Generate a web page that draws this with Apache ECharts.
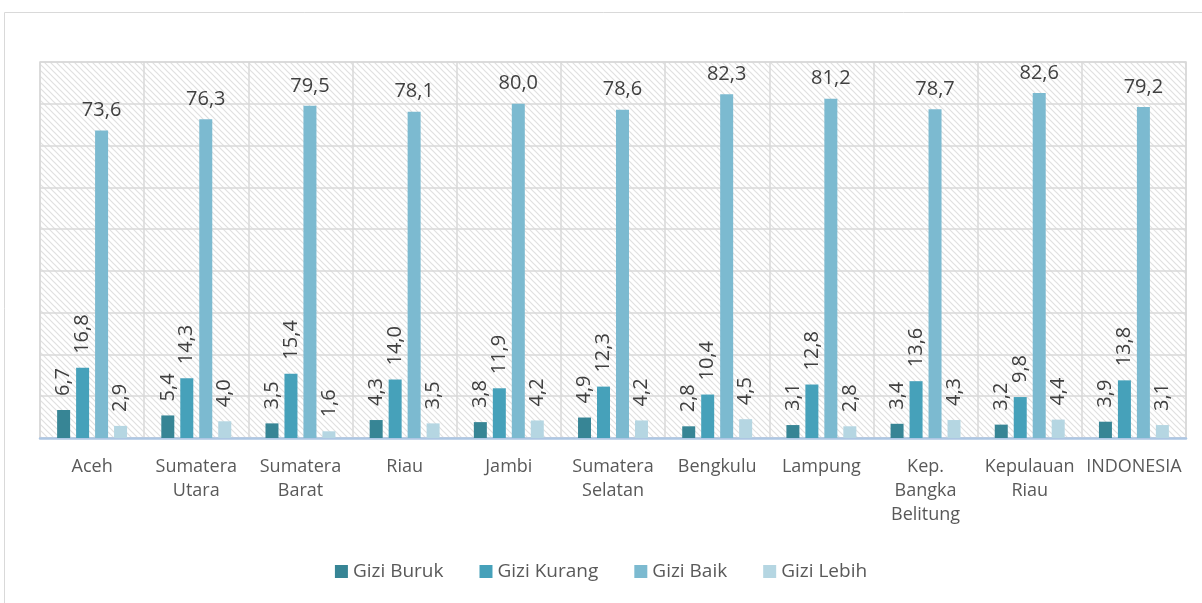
<!DOCTYPE html>
<html>
<head>
<meta charset="utf-8">
<script src="https://cdn.jsdelivr.net/npm/echarts@6/dist/echarts.min.js"></script>
<style>
  html, body { margin: 0; padding: 0; background: #fff; }
  #chart { width: 1202px; height: 603px; }
</style>
</head>
<body>
<div id="chart"></div>
<script>
const categories = ['Aceh', 'Sumatera\nUtara', 'Sumatera\nBarat', 'Riau', 'Jambi', 'Sumatera\nSelatan',
  'Bengkulu', 'Lampung', 'Kep.\nBangka\nBelitung', 'Kepulauan\nRiau', 'INDONESIA']
const giziBuruk = [6.7, 5.4, 3.5, 4.3, 3.8, 4.9, 2.8, 3.1, 3.4, 3.2, 3.9]
const giziKurang = [16.8, 14.3, 15.4, 14.0, 11.9, 12.3, 10.4, 12.8, 13.6, 9.8, 13.8]
const giziBaik = [73.6, 76.3, 79.5, 78.1, 80.0, 78.6, 82.3, 81.2, 78.7, 82.6, 79.2]
const giziLebih = [2.9, 4.0, 1.6, 3.5, 4.2, 4.2, 4.5, 2.8, 4.3, 4.4, 3.1]

const font = '"Open Sans", "Noto Sans", sans-serif'
const fmt = p => p.value.toFixed(1).replace('.', ',')

// hatched background for the plot area
function hatch() {
  const c = document.createElement('canvas')
  c.width = 6
  c.height = 6
  const ctx = c.getContext('2d')
  ctx.fillStyle = '#ffffff'
  ctx.fillRect(0, 0, 6, 6)
  ctx.strokeStyle = '#e0e0e0'
  ctx.lineWidth = 1.2
  ctx.beginPath()
  ctx.moveTo(-1, -1); ctx.lineTo(7, 7)
  ctx.moveTo(-4, 2); ctx.lineTo(4, 10)
  ctx.moveTo(2, -4); ctx.lineTo(10, 4)
  ctx.stroke()
  return c
}

const rotLabel = {
  show: true,
  position: 'top',
  rotate: 90,
  align: 'left',
  verticalAlign: 'middle',
  distance: 14,
  fontFamily: font,
  fontSize: 20,
  color: '#404040',
  formatter: fmt
}

function bar(name, data, color, label) {
  return {
    name,
    type: 'bar',
    data,
    barWidth: 13,
    barGap: '46%',
    itemStyle: { color },
    label
  }
}

const chart = echarts.init(document.getElementById('chart'))
chart.setOption({
  animation: false,
  backgroundColor: '#fff',
  graphic: [{
    type: 'rect',
    shape: { x: 4.5, y: 12.5, width: 1220, height: 620 },
    style: { fill: 'none', stroke: '#d9d9d9', lineWidth: 1 },
    silent: true
  }],
  grid: {
    left: 40,
    right: 16,
    top: 62,
    bottom: 165,
    show: true,
    backgroundColor: { image: hatch(), repeat: 'repeat' },
    borderColor: '#d9d9d9',
    borderWidth: 1.5
  },
  legend: {
    bottom: 17,
    left: 'center',
    itemWidth: 13,
    itemHeight: 13,
    itemGap: 36,
    icon: 'rect',
    textStyle: { fontFamily: font, fontSize: 19, color: '#595959' }
  },
  xAxis: {
    type: 'category',
    data: categories,
    axisLine: { lineStyle: { color: '#adc6e3', width: 2.5 } },
    axisTick: { show: false },
    splitLine: { show: true, interval: 0, lineStyle: { color: '#d9d9d9', width: 1.5 } },
    axisLabel: {
      interval: 0,
      margin: 17,
      fontFamily: font,
      fontSize: 18,
      lineHeight: 24,
      color: '#595959'
    }
  },
  yAxis: {
    type: 'value',
    min: 0,
    max: 90,
    interval: 10,
    axisLabel: { show: false },
    axisLine: { show: false },
    axisTick: { show: false },
    splitLine: { lineStyle: { color: '#d9d9d9', width: 1.5 } }
  },
  series: [
    bar('Gizi Buruk', giziBuruk, '#378595', rotLabel),
    bar('Gizi Kurang', giziKurang, '#46a1ba', rotLabel),
    bar('Gizi Baik', giziBaik, '#7cbad0', {
      show: true,
      position: 'top',
      distance: 10,
      fontFamily: font,
      fontSize: 20,
      color: '#404040',
      formatter: fmt
    }),
    bar('Gizi Lebih', giziLebih, '#b5d6e2', rotLabel)
  ]
})
</script>
</body>
</html>
